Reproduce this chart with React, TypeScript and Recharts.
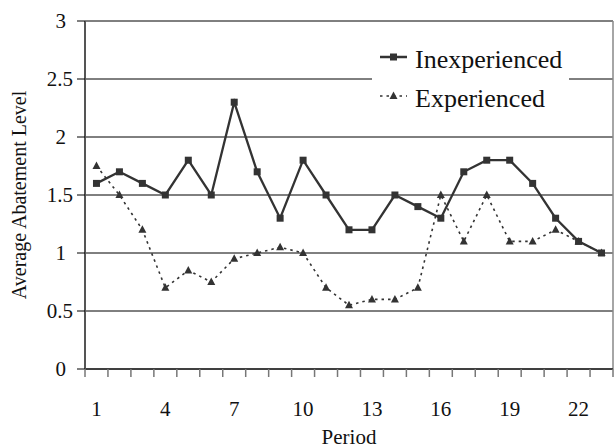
import React from "react";
import { LineChart, Line, XAxis, YAxis, CartesianGrid, Legend, ReferenceLine } from "recharts";

const periods = [1, 2, 3, 4, 5, 6, 7, 8, 9, 10, 11, 12, 13, 14, 15, 16, 17, 18, 19, 20, 21, 22, 23];
const inexperienced = [1.6, 1.7, 1.6, 1.5, 1.8, 1.5, 2.3, 1.7, 1.3, 1.8, 1.5, 1.2, 1.2, 1.5, 1.4, 1.3, 1.7, 1.8, 1.8, 1.6, 1.3, 1.1, 1.0];
const experienced = [1.75, 1.5, 1.2, 0.7, 0.85, 0.75, 0.95, 1.0, 1.05, 1.0, 0.7, 0.55, 0.6, 0.6, 0.7, 1.5, 1.1, 1.5, 1.1, 1.1, 1.2, 1.1, 1.0];
const periodLabels = [1, 4, 7, 10, 13, 16, 19, 22];
const yTicks = [0, 0.5, 1, 1.5, 2, 2.5, 3];
const seriesNames = ["Inexperienced", "Experienced"];

const data = periods.map((p, i) => ({
  period: p,
  inexperienced: inexperienced[i],
  experienced: experienced[i],
}));

const boundaries = [0.5, ...periods.map((p) => p + 0.5)];
const xTicks = [...boundaries, ...periodLabels];

const FONT = '"Liberation Serif", "DejaVu Serif", serif';
const INK = "#333333";
const fontStyle = { fontFamily: FONT };

const XTick = (props: any) => {
  const { x, y, payload } = props;
  const v = payload.value;
  if (Math.abs(v - Math.round(v)) > 0.01) {
    return <line x1={x} x2={x} y1={y} y2={y + 8} stroke="#777" strokeWidth={1.5} />;
  }
  return (
    <text x={x} y={y + 47} textAnchor="middle" style={fontStyle} fontSize={21} fill="#111">
      {v}
    </text>
  );
};

const YTick = (props: any) => {
  const { x, y, payload } = props;
  const s = String(payload.value);
  const right = s.length > 1 ? x - 4 : x - 11;
  return (
    <text x={right} y={y + 7} textAnchor="end" style={fontStyle} fontSize={21} fill="#111">
      {s}
    </text>
  );
};

const YLabel = (props: any) => {
  const vb = props.viewBox || {};
  const cy = vb.y + vb.height / 2;
  const lx = 26;
  return (
    <text x={lx} y={cy} transform={`rotate(-90, ${lx}, ${cy})`} textAnchor="middle" style={fontStyle} fontSize={20} fill="#111">
      Average Abatement Level
    </text>
  );
};

const XLabel = (props: any) => {
  const vb = props.viewBox || {};
  const cx = vb.x + vb.width / 2;
  return (
    <text x={cx} y={444} textAnchor="middle" style={fontStyle} fontSize={21} fill="#111">
      Period
    </text>
  );
};

const SquareDot = (props: any) => {
  const { cx, cy, index } = props;
  if (cx == null || cy == null) return <g key={`s${index}`} />;
  return <rect key={`s${index}`} x={cx - 3.5} y={cy - 3.5} width={7} height={7} fill={INK} />;
};

const TriDot = (props: any) => {
  const { cx, cy, index } = props;
  if (cx == null || cy == null) return <g key={`t${index}`} />;
  return <polygon key={`t${index}`} points={`${cx},${cy - 4.5} ${cx - 4},${cy + 3} ${cx + 4},${cy + 3}`} fill={INK} />;
};

const LegendBox = () => (
  <div style={{ background: "#fff", width: 197, height: 80 }}>
    <svg width={197} height={80}>
      <line x1={8} x2={35} y1={19} y2={19} stroke={INK} strokeWidth={2.5} />
      <rect x={18} y={15.5} width={7} height={7} fill={INK} />
      <text x={43} y={30} style={fontStyle} fontSize={26} fill="#111">{seriesNames[0]}</text>
      <line x1={8} x2={35} y1={58} y2={58} stroke={INK} strokeWidth={1.6} strokeDasharray="2.5 4" />
      <polygon points="21.5,53.5 17.5,61 25.5,61" fill={INK} />
      <text x={43} y={69} style={fontStyle} fontSize={26} fill="#111">{seriesNames[1]}</text>
    </svg>
  </div>
);

export default function App() {
  return (
    <div style={{ width: 614, height: 448, background: "#fff" }}>
      <style>{"body{margin:0;background:#fff}"}</style>
      <LineChart width={614} height={448} data={data} margin={{ top: 21, right: 1, bottom: 0, left: 0 }}>
        <CartesianGrid horizontal={true} vertical={false} stroke="#000" strokeWidth={1} />
        <XAxis
          dataKey="period"
          type="number"
          domain={[0.5, 23.5]}
          ticks={xTicks}
          interval={0}
          height={79}
          tickSize={0}
          tickMargin={0}
          tickLine={false}
          axisLine={{ stroke: "#000", strokeWidth: 1 }}
          tick={<XTick />}
          label={<XLabel />}
        />
        <YAxis
          type="number"
          domain={[0, 3]}
          ticks={yTicks}
          interval={0}
          width={85}
          tickSize={8}
          tickMargin={0}
          tickLine={{ stroke: "#000", strokeWidth: 1 }}
          axisLine={{ stroke: "#555", strokeWidth: 2 }}
          tick={<YTick />}
          label={<YLabel />}
        />
        <ReferenceLine x={23.5} stroke="#888" strokeWidth={1.5} />
        <Legend
          layout="vertical"
          align="center"
          verticalAlign="middle"
          wrapperStyle={{ left: 372, top: 38, width: 197, height: 80 }}
          content={<LegendBox />}
        />
        <Line
          type="linear"
          dataKey="experienced"
          name={seriesNames[1]}
          stroke={INK}
          strokeWidth={1.6}
          strokeDasharray="2.5 4"
          dot={<TriDot />}
          isAnimationActive={false}
        />
        <Line
          type="linear"
          dataKey="inexperienced"
          name={seriesNames[0]}
          stroke={INK}
          strokeWidth={2.3}
          dot={<SquareDot />}
          isAnimationActive={false}
        />
      </LineChart>
    </div>
  );
}
